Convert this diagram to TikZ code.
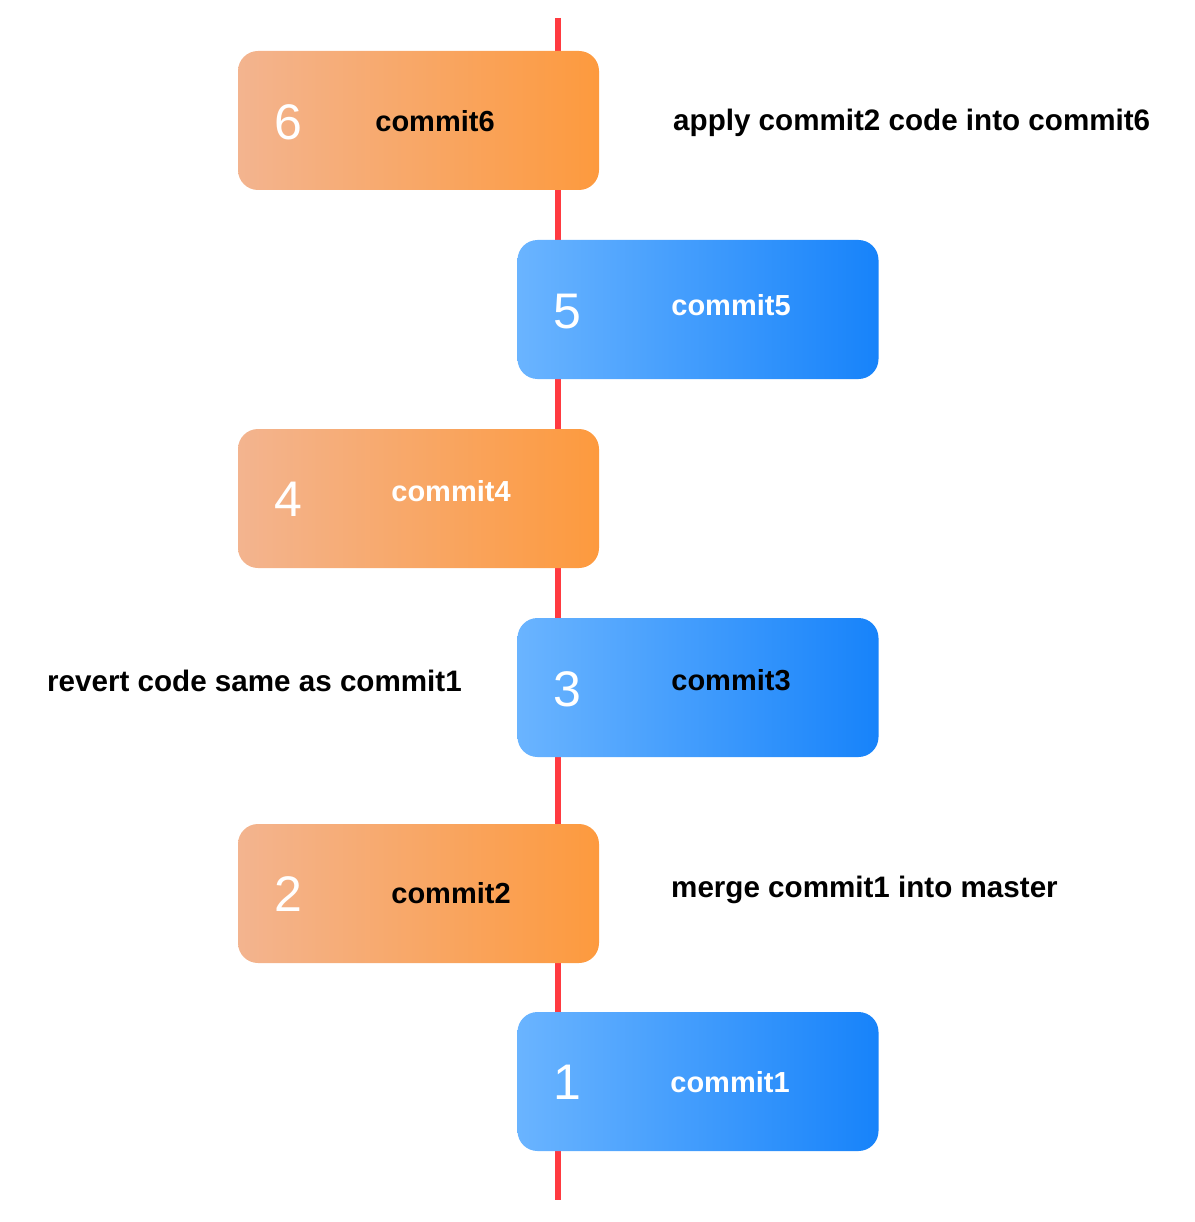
\documentclass[tikz,border=0pt]{standalone}
\usepackage{fontspec}
\setmainfont{Liberation Sans}
\definecolor{orangeL}{HTML}{F3B48F}
\definecolor{orangeR}{HTML}{FD9A3E}
\definecolor{blueL}{HTML}{6AB4FF}
\definecolor{blueR}{HTML}{1783FA}
\definecolor{lineRed}{HTML}{FF3A40}
\begin{document}
\begin{tikzpicture}[x=1pt,y=-1pt,
	box/.style={shape=rectangle,rounded corners=20pt,minimum width=361pt,
		minimum height=139pt,inner sep=0pt},
	orangebox/.style={box,left color=orangeL,right color=orangeR},
	bluebox/.style={box,left color=blueL,right color=blueR},
	num/.style={text=white,inner sep=0pt,font=\fontsize{50}{50}\selectfont},
	lbl/.style={inner sep=0pt,font=\bfseries\fontsize{29}{29}\selectfont},
	note/.style={inner sep=0pt,anchor=west,font=\bfseries\fontsize{29.6}{29.6}\selectfont}]
	\useasboundingbox (0,0) rectangle (1194,1222);
	% the time line, behind the boxes
	\coordinate (top) at (558,18);
	\coordinate (bottom) at (558,1200);
	\draw[lineRed,line width=6pt] (top) -- (bottom);

	% create the commit boxes
	\node (c6) [orangebox] at (418.5,120.5) {};
	\node (c5) [bluebox] at (698,309.5) {};
	\node (c4) [orangebox] at (418.5,498.5) {};
	\node (c3) [bluebox] at (698,687.5) {};
	\node (c2) [orangebox] at (418.5,893.5) {};
	\node (c1) [bluebox] at (698,1081.5) {};

	% numbers and names
	\node (n6) [num] at (288,122) {6};
	\node (l6) [lbl] at (435,121) {commit6};
	\node (n5) [num] at (567,312) {5};
	\node (l5) [lbl,text=white] at (731,305) {commit5};
	\node (n4) [num] at (288,499) {4};
	\node (l4) [lbl,text=white] at (451,491) {commit4};
	\node (n3) [num] at (567,689) {3};
	\node (l3) [lbl] at (731,680) {commit3};
	\node (n2) [num] at (288,894) {2};
	\node (l2) [lbl] at (451,893) {commit2};
	\node (n1) [num] at (567,1082) {1};
	\node (l1) [lbl,text=white] at (730,1082) {commit1};

	% notes
	\node (note6) [note] at (673,123) {apply commit2 code into commit6};
	\node (note3) [note] at (47,681) {revert code same as commit1};
	\node (note2) [note] at (671,890) {merge commit1 into master};
\end{tikzpicture}
\end{document}
